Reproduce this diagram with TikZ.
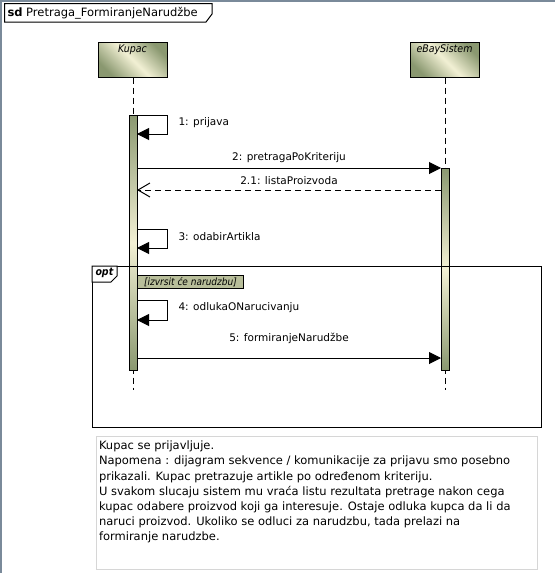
\documentclass[tikz,border=0pt]{standalone}
\usepackage{fontspec}
\setmainfont{DejaVu Sans}
\newfontfamily\headfont{DejaVu Sans Condensed}
\usetikzlibrary{positioning, calc, arrows.meta}

\definecolor{olivedark}{HTML}{8A9870}
\definecolor{olivelight}{HTML}{F2F0D4}
\definecolor{guardfill}{HTML}{B8BE9A}
\definecolor{framegray}{HTML}{7A8A9A}
\definecolor{notegray}{HTML}{D6D6D6}

\begin{document}
\begin{tikzpicture}[x=1pt, y=-1pt, line width=1pt,
        head/.style={draw, minimum width=69pt, minimum height=35pt, inner sep=0pt,
                left color=olivedark, right color=olivedark, middle color=olivelight, shading angle=135},
        headtext/.style={font=\headfont\itshape\fontsize{10.5}{12}\selectfont, inner sep=1pt},
        bar/.style={draw, minimum width=8pt, inner sep=0pt, outer sep=0pt,
                top color=olivedark, bottom color=olivedark, middle color=olivelight},
        lifeline/.style={dash pattern=on 6pt off 4pt},
        msg/.style={-{Triangle[length=12pt,width=12pt]}},
        reply/.style={dash pattern=on 6pt off 4pt, -{Straight Barb[length=12pt,width=14pt]}},
        lbl/.style={font=\fontsize{10.5}{12}\selectfont, inner sep=1pt},
        fragment/.style={draw, inner sep=0pt, anchor=north west}]
        \useasboundingbox (0,0) rectangle (555,573);

        % Frame
        \draw[framegray, line width=2pt] (0.5,573) -- (0.5,0.5) -- (555,0.5);
        \draw[fill=white] (4.5,3.5) coordinate (sdtab) -- (212,3.5) -- (212,14) -- (206,22) -- (4.5,22) -- cycle;
        \node[lbl, anchor=west, font=\fontsize{11.5}{13}\selectfont] (sdname) at (6,13) {\textbf{sd} Pretraga\_FormiranjeNarudžbe};

        % Lifelines
        \node[head] (kupac) at (132.5,59.5) {};
        \node[headtext, below=2pt of kupac.north] (kupaclbl) {Kupac};
        \node[head] (ebay) at (444.5,59.5) {};
        \node[headtext, below=2pt of ebay.north] (ebaylbl) {eBaySistem};
        \draw[lifeline] (kupac.south -| 133,0) -- (133,390);
        \draw[lifeline] (ebay.south -| 445,0) -- (445,390);

        % Activations
        \node[bar, minimum height=255pt] (kact) at (133,242.5) {};
        \node[bar, minimum height=202pt] (eact) at (445,269) {};

        % Message heights
        \coordinate (m1) at (0,115);
        \coordinate (m1b) at (0,134);
        \coordinate (m2) at (0,168);
        \coordinate (m21) at (0,190);
        \coordinate (m3) at (0,229);
        \coordinate (m3b) at (0,248);
        \coordinate (m4) at (0,300);
        \coordinate (m4b) at (0,320);
        \coordinate (m5) at (0,358);

        % Messages
        \draw[msg] (kact.east |- m1) -- ++(30,0) |- (kact.east |- m1b);
        \node[lbl, anchor=west] (t1) at (177,123) {1: prijava};
        \draw[msg] (kact.east |- m2) -- node[lbl, above=4pt] (t2) {2: pretragaPoKriteriju} (eact.west |- m2);
        \draw[reply] (eact.west |- m21) -- node[lbl, above=4pt] (t21) {2.1: listaProizvoda} (kact.east |- m21);
        \draw[msg] (kact.east |- m3) -- ++(30,0) |- (kact.east |- m3b);
        \node[lbl, anchor=west] (t3) at (177,237) {3: odabirArtikla};

        % Optional fragment
        \node[fragment, minimum width=449pt, minimum height=161pt] (optfrag) at (92,266) {};
        \draw[fill=white] (optfrag.north west) -- ++(25,0) -- ++(0,10) -- ++(-6,6) -- ++(-19,0) -- cycle;
        \node[lbl, anchor=west, font=\headfont\bfseries\itshape\fontsize{10.5}{12}\selectfont] (optlbl) at (94,273) {opt};
        \node[draw, fill=guardfill, anchor=north west, minimum width=106pt, minimum height=13pt, inner sep=0pt,
                font=\headfont\itshape\fontsize{10}{12}\selectfont] (guard) at (137,275) {[izvrsit će narudzbu]};

        \draw[msg] (kact.east |- m4) -- ++(30,0) |- (kact.east |- m4b);
        \node[lbl, anchor=west] (t4) at (177,308) {4: odlukaONarucivanju};
        \draw[msg] (kact.east |- m5) -- node[lbl, above=13pt] (t5) {5: formiranjeNarudžbe} (eact.west |- m5);

        % Note
        \node[draw=notegray, anchor=north west, minimum width=441.5pt, minimum height=133.5pt, inner sep=0pt] (note) at (95.5,435.5) {};
        \node[anchor=north west, align=left, inner sep=0pt, font=\fontsize{11.5}{15.2}\selectfont] (notetext) at ($(note.north west)+(3,5)$) {Kupac se prijavljuje.\\
                Napomena : dijagram sekvence / komunikacije za prijavu smo posebno\\
                prikazali. Kupac pretrazuje artikle po određenom kriteriju.\\
                U svakom slucaju sistem mu vraća listu rezultata pretrage nakon cega\\
                kupac odabere proizvod koji ga interesuje. Ostaje odluka kupca da li da\\
                naruci proizvod. Ukoliko se odluci za narudzbu, tada prelazi na\\
                formiranje narudzbe.};
\end{tikzpicture}
\end{document}
